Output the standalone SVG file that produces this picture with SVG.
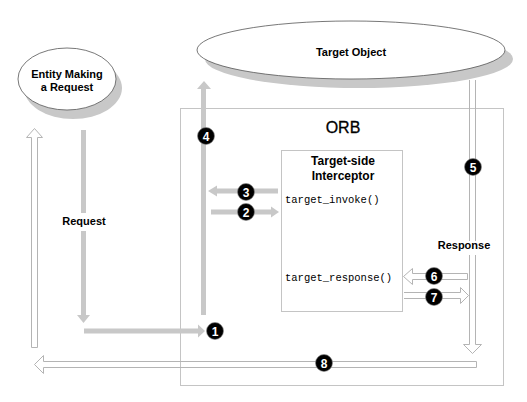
<svg xmlns="http://www.w3.org/2000/svg" width="527" height="402" viewBox="0 0 527 402">
<defs>
<style>
.lbl{font-family:"Liberation Sans",Arial,sans-serif;font-weight:bold;font-size:11px;fill:#000;text-anchor:middle}
.ttl{font-family:"Liberation Sans",Arial,sans-serif;font-weight:bold;font-size:12px;fill:#000;text-anchor:middle}
.orb{font-family:"Liberation Sans",Arial,sans-serif;font-size:16px;fill:#000;text-anchor:middle;stroke:#000;stroke-width:0.3}
.code{font-family:"Liberation Mono","Courier New",monospace;font-size:10.5px;fill:#000}
.box{fill:none;stroke:#c4c4c4;stroke-width:1}
.shadow{fill:#c8c8c8}
.ell{fill:#fff;stroke:#555;stroke-width:0.8}
.solid{stroke:#c8c8c8;stroke-width:5;fill:none}
.head{fill:#c8c8c8}
.hollow{fill:none;stroke:#b4b4b4;stroke-width:1}
.num circle{fill:#000;stroke:#888;stroke-width:0.6}
.num text{font-family:"Liberation Sans",Arial,sans-serif;font-weight:bold;font-size:12px;fill:#fff;text-anchor:middle}
</style>
</defs>
<rect width="527" height="402" fill="#fff"/>

<g id="orb">
<rect class="box" x="180.5" y="108.5" width="323" height="277"/>
<text class="orb" x="343" y="133">ORB</text>
</g>

<g id="entity">
<ellipse class="shadow" cx="73" cy="88" rx="49" ry="31"/>
<ellipse class="ell" cx="67" cy="79" rx="49" ry="31"/>
<text class="lbl" x="67" y="78">Entity Making</text>
<text class="lbl" x="67" y="91">a Request</text>
</g>

<g id="target">
<ellipse class="shadow" cx="359" cy="59" rx="154" ry="29"/>
<ellipse class="ell" cx="351" cy="50" rx="154" ry="29"/>
<text class="lbl" x="351" y="56">Target Object</text>
</g>

<g id="interceptor">
<rect class="box" x="281.5" y="150.5" width="121" height="161" fill="#fff"/>
<text class="ttl" x="343" y="165">Target-side</text>
<text class="ttl" x="343" y="180">Interceptor</text>
<text class="code" x="285" y="203">target_invoke()</text>
<text class="code" x="285" y="281">target_response()</text>
</g>

<g id="connectors">
<line class="solid" x1="83.5" y1="130" x2="83.5" y2="213"/>
<line class="solid" x1="83.5" y1="231" x2="83.5" y2="316"/>
<polygon class="head" points="77,315 90,315 83.5,323"/>
<text class="lbl" x="84" y="225">Request</text>
<line class="solid" x1="84" y1="331" x2="199" y2="331"/>
<polygon class="head" points="198,324.5 198,337.5 205,331"/>
<line class="solid" x1="203.5" y1="315" x2="203.5" y2="88"/>
<polygon class="head" points="197,89 211,89 204,81"/>
<line class="solid" x1="278" y1="191" x2="216" y2="191"/>
<polygon class="head" points="217,185.5 217,196.5 208,191"/>
<line class="solid" x1="211" y1="212" x2="272" y2="212"/>
<polygon class="head" points="271,206.5 271,217.5 279,212"/>
<polygon class="hollow" points="31.5,347.5 31.5,137.5 26.5,137.5 34.5,128.5 42.5,137.5 37.5,137.5 37.5,347.5"/>
<polygon class="hollow" points="476.5,361.5 43.5,361.5 43.5,355.5 34.5,364.5 43.5,373.5 43.5,367.5 476.5,367.5"/>
<path class="hollow" d="M469.5,80 V241 M475.5,80 V241 M469.5,255 V344.5 H463.5 L472.5,353.5 L481.5,344.5 H475.5 V255"/>
<text class="lbl" x="464" y="249">Response</text>
<polygon class="hollow" points="467.5,273.5 412.5,273.5 412.5,268.5 403.5,276.5 412.5,284.5 412.5,279.5 467.5,279.5"/>
<path class="hollow" d="M404,292.5 H460.5 V287.5 L468.5,295.5 L460.5,303.5 V298.5 H404"/>
</g>

<g id="n1" class="num"><circle cx="215" cy="331" r="8.5"/><text x="215" y="335.5">1</text></g>
<g id="n2" class="num"><circle cx="246" cy="212" r="8.5"/><text x="246" y="216.5">2</text></g>
<g id="n3" class="num"><circle cx="246" cy="192" r="8.5"/><text x="246" y="196.5">3</text></g>
<g id="n4" class="num"><circle cx="206" cy="136" r="8.5"/><text x="206" y="140.5">4</text></g>
<g id="n5" class="num"><circle cx="473" cy="167" r="8.5"/><text x="473" y="171.5">5</text></g>
<g id="n6" class="num"><circle cx="434" cy="276" r="8.5"/><text x="434" y="280.5">6</text></g>
<g id="n7" class="num"><circle cx="434" cy="297" r="8.5"/><text x="434" y="301.5">7</text></g>
<g id="n8" class="num"><circle cx="324" cy="363" r="8.5"/><text x="324" y="367.5">8</text></g>
</svg>
